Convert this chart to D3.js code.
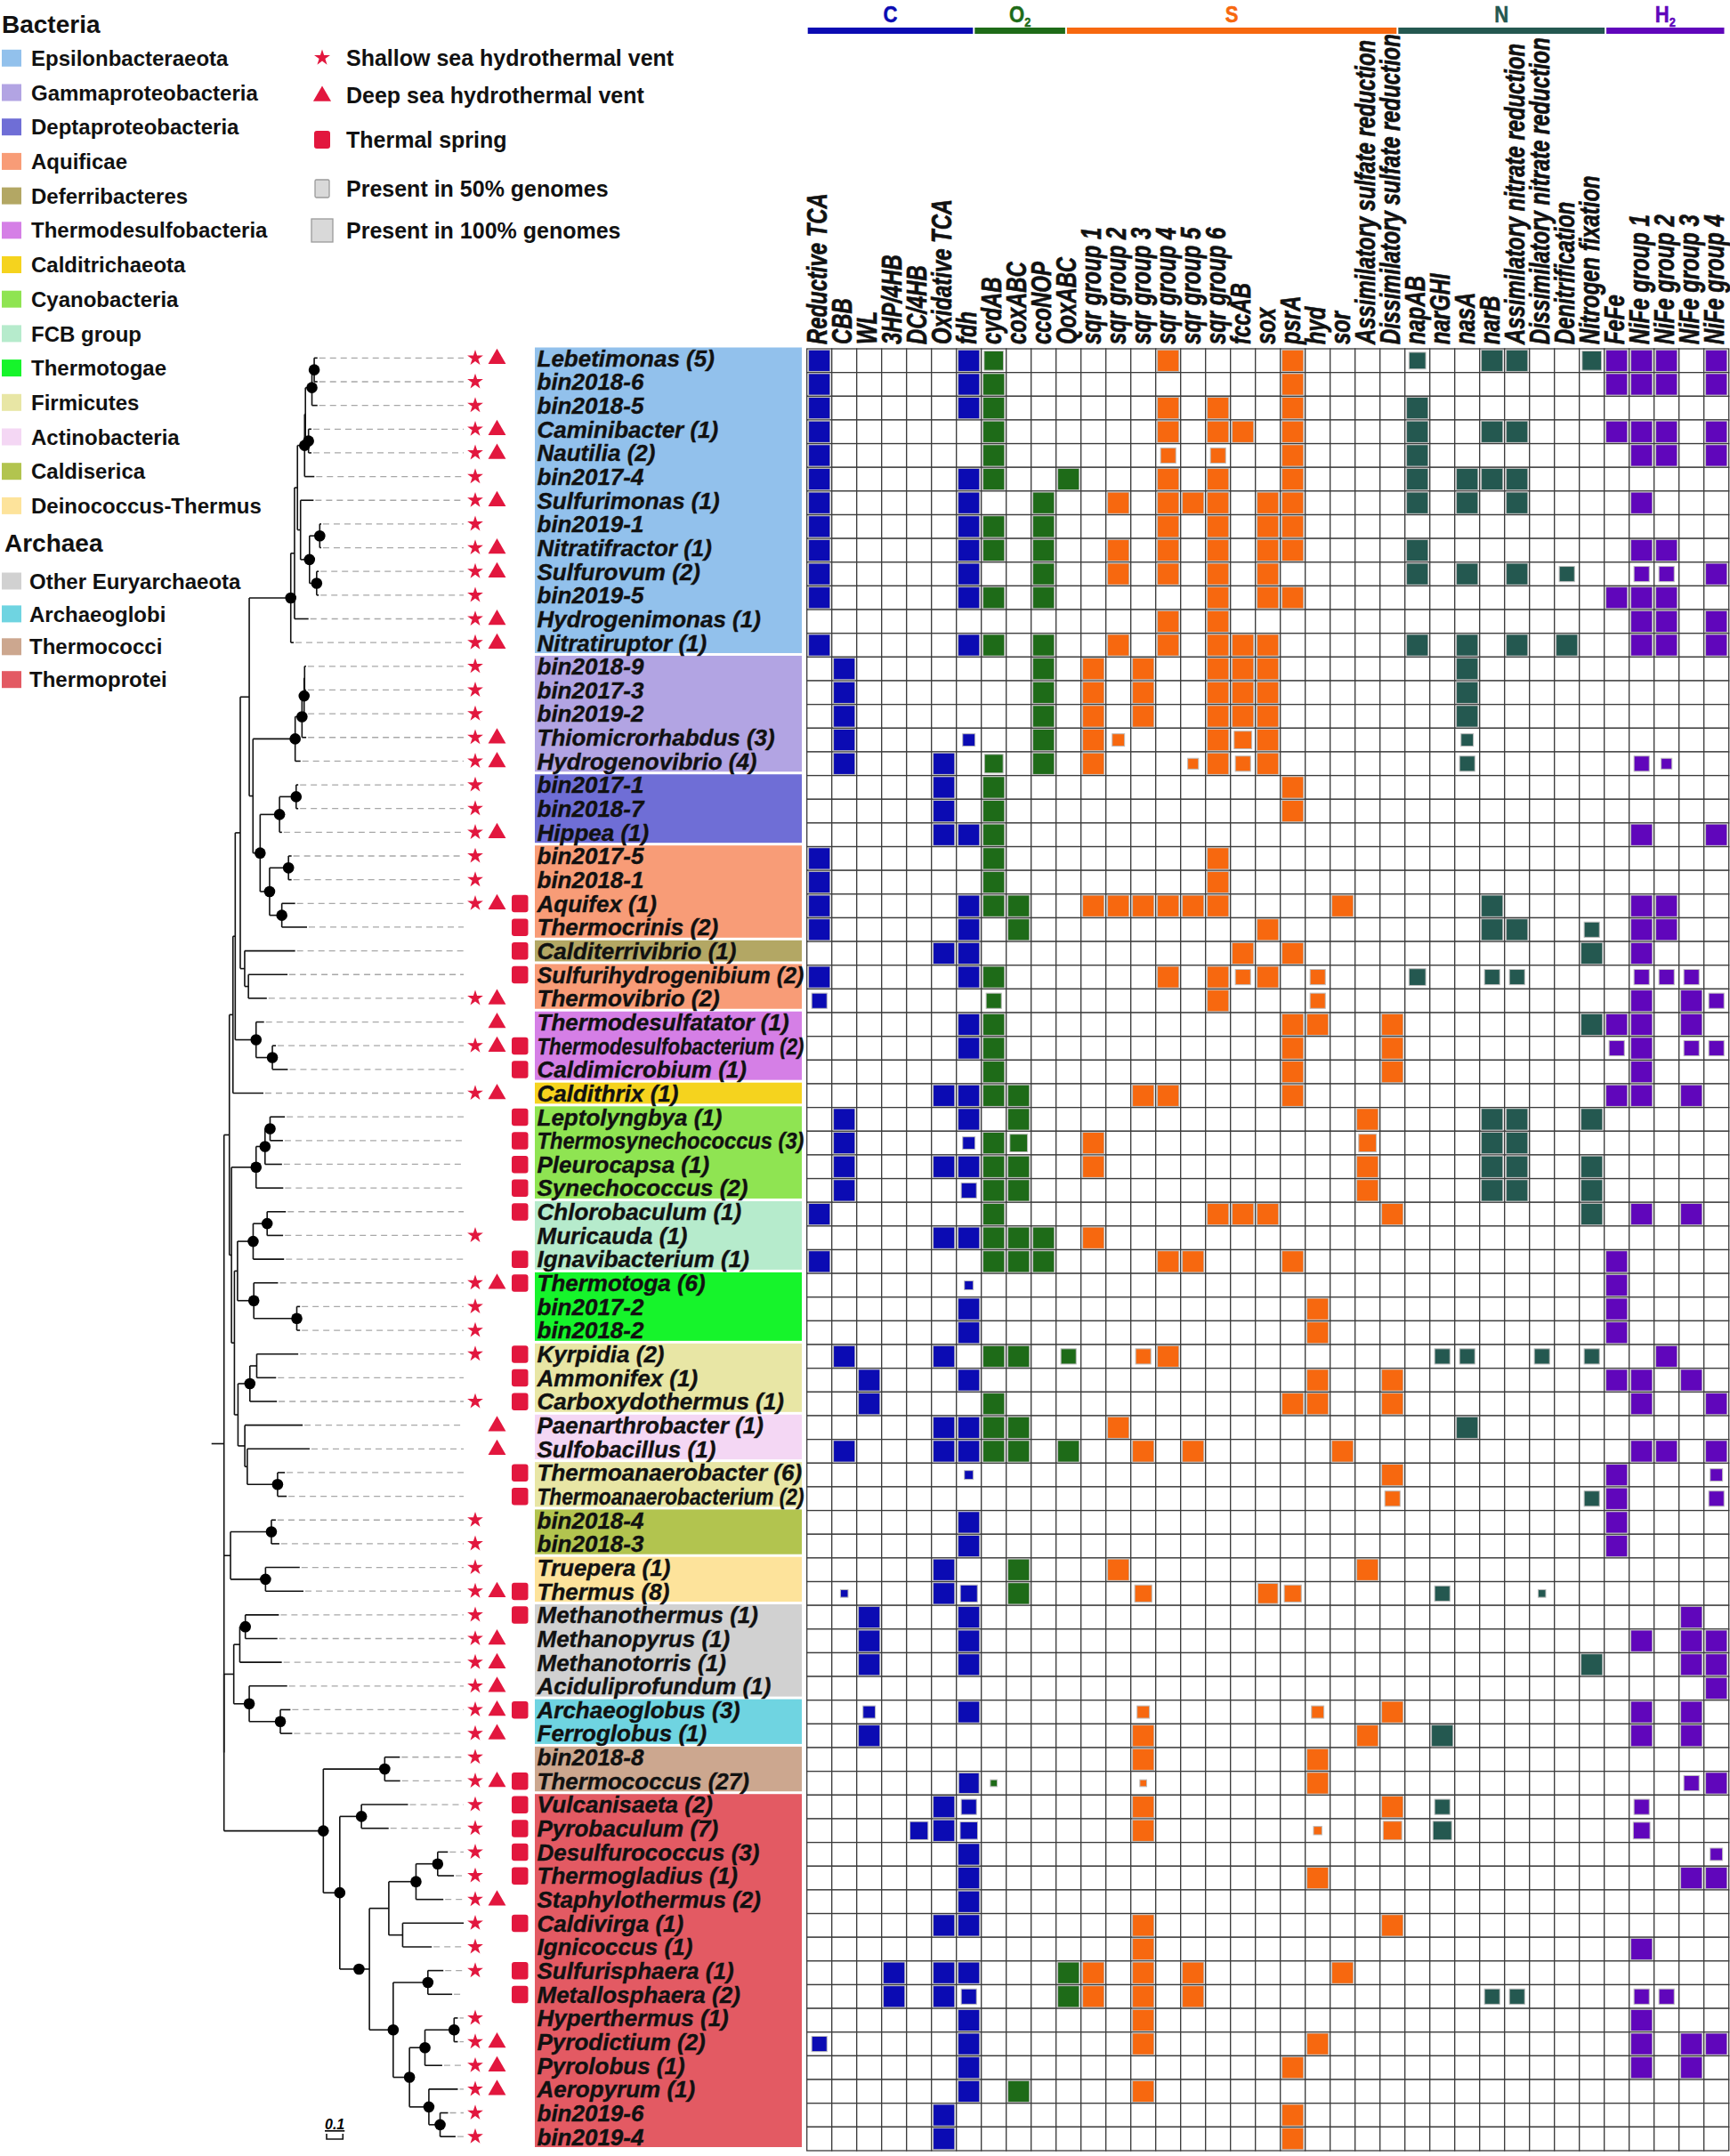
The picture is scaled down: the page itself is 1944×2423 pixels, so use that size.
<!DOCTYPE html>
<html><head><meta charset="utf-8">
<script src="https://cdn.jsdelivr.net/npm/d3@7"></script>
<style>
body{margin:0;background:#fff}
svg{display:block}
text{font-family:"Liberation Sans",Arial,Helvetica,sans-serif}
</style>
</head><body>
<svg id="chart" width="1944" height="2423"></svg>
<script>
// ---------------- DATA ----------------
const genes = ["Reductive TCA","CBB","WL","3HP/4HB","DC/4HB","Oxidative TCA","fdh",
  "cydAB","coxABC","ccoNOP","QoxABC",
  "sqr group 1","sqr group 2","sqr group 3","sqr group 4","sqr group 5","sqr group 6","fccAB","sox","psrA","hyd","sor","Assimilatory sulfate reduction","Dissimilatory sulfate reduction",
  "napAB","narGHI","nasA","narB","Assimilatory nitrate reduction","Dissimilatory nitrate reduction","Denitrification","Nitrogen fixation",
  "FeFe","NiFe group 1","NiFe group 2","NiFe group 3","NiFe group 4"];
const groupNames = ["C","O","S","N","H"];
const groupSubs  = ["","2","","","2"];
const groupSizes = [7,4,13,8,5];
// header bar edges, in column units, as drawn in the figure
const groupBarEdges = [0, 6.7, 10.4, 23.7, 32.05, 36.85];
const groupColors = ["#0b0bb3","#1e6b18","#f7680f","#245850","#6006bb"];

const phyla = ["Epsilonbacteraeota","Gammaproteobacteria","Deptaproteobacteria","Aquificae","Deferribacteres",
  "Thermodesulfobacteria","Calditrichaeota","Cyanobacteria","FCB group","Thermotogae","Firmicutes",
  "Actinobacteria","Caldiserica","Deinococcus-Thermus",
  "Other Euryarchaeota","Archaeoglobi","Thermococci","Thermoprotei"];
const phylaColors = ["#92c1ec","#b2a4e3","#6f6ed6","#f89c77","#b3a764","#d57fe6","#f5d31e","#8fe452",
  "#b6ebcc","#16f42b","#e8e6a5","#f4d7f4","#b2c44f","#fde39b","#d1d1d1","#6fd4e1","#cca78f","#e35a63"];
const bacteriaCount = 14;

const taxa = ["Lebetimonas (5)","bin2018-6","bin2018-5","Caminibacter (1)","Nautilia (2)","bin2017-4",
  "Sulfurimonas (1)","bin2019-1","Nitratifractor (1)","Sulfurovum (2)","bin2019-5","Hydrogenimonas (1)",
  "Nitratiruptor (1)","bin2018-9","bin2017-3","bin2019-2","Thiomicrorhabdus (3)","Hydrogenovibrio (4)",
  "bin2017-1","bin2018-7","Hippea (1)","bin2017-5","bin2018-1","Aquifex (1)","Thermocrinis (2)",
  "Calditerrivibrio (1)","Sulfurihydrogenibium (2)","Thermovibrio (2)","Thermodesulfatator (1)",
  "Thermodesulfobacterium (2)","Caldimicrobium (1)","Caldithrix (1)","Leptolyngbya (1)",
  "Thermosynechococcus (3)","Pleurocapsa (1)","Synechococcus (2)","Chlorobaculum (1)","Muricauda (1)",
  "Ignavibacterium (1)","Thermotoga (6)","bin2017-2","bin2018-2","Kyrpidia (2)","Ammonifex (1)",
  "Carboxydothermus (1)","Paenarthrobacter (1)","Sulfobacillus (1)","Thermoanaerobacter (6)",
  "Thermoanaerobacterium (2)","bin2018-4","bin2018-3","Truepera (1)","Thermus (8)","Methanothermus (1)",
  "Methanopyrus (1)","Methanotorris (1)","Aciduliprofundum (1)","Archaeoglobus (3)","Ferroglobus (1)",
  "bin2018-8","Thermococcus (27)","Vulcanisaeta (2)","Pyrobaculum (7)","Desulfurococcus (3)",
  "Thermogladius (1)","Staphylothermus (2)","Caldivirga (1)","Ignicoccus (1)","Sulfurisphaera (1)",
  "Metallosphaera (2)","Hyperthermus (1)","Pyrodictium (2)","Pyrolobus (1)","Aeropyrum (1)",
  "bin2019-6","bin2019-4"];

const taxonPhylum = [0,0,0,0,0,0,0,0,0,0,0,0,0, 1,1,1,1,1, 2,2,2, 3,3,3,3, 4, 3,3, 5,5,5, 6,
  7,7,7,7, 8,8,8, 9,9,9, 10,10,10, 11,11, 10,10, 12,12, 13,13,
  14,14,14,14, 15,15, 16,16, 17,17,17,17,17,17,17,17,17,17,17,17,17,17,17];

// S = shallow sea vent, D = deep sea vent, T = thermal spring
const habitats = ["SD","S","S","SD","SD","S","SD","S","SD","SD","S","SD","SD",
  "S","S","S","SD","SD","S","S","SD","S","S","SDT","T","T","T","SD",
  "D","SDT","T","SD","T","T","T","T","T","S","T","SDT","S","S",
  "ST","T","ST","D","D","T","T","S","S","S","SDT",
  "ST","SD","SD","SD","SDT","SD","S","SDT",
  "ST","ST","ST","ST","SD","ST","S","ST","T","S","SD","SD","SD","S","S"];

// gene index (full presence) or [gene index, fraction of genomes]
const presence = [
  [0,6,[7,.8],14,19,[24,.6],27,28,[31,.8],32,33,34,36],
  [0,6,7,19,32,33,34,36],
  [0,6,7,14,16,19,24],
  [0,7,14,16,17,19,24,27,28,32,33,34,36],
  [0,7,[14,.5],[16,.5],19,24,33,34,36],
  [0,6,7,10,14,16,19,24,26,27,28],
  [0,6,9,12,14,15,16,18,19,24,26,28,33],
  [0,6,7,9,14,16,18,19],
  [0,6,7,9,12,14,16,18,19,24,33,34],
  [0,6,9,12,14,16,18,24,26,28,[30,.5],[33,.5],[34,.5],36],
  [0,6,7,9,16,18,19,32,33,34],
  [14,16,33,34,36],
  [0,6,7,9,12,14,16,17,18,24,26,28,30,33,34,36],
  [1,9,11,13,16,17,18,26],
  [1,9,11,13,16,17,18,26],
  [1,9,11,13,16,17,18,26],
  [1,[6,.33],9,11,[12,.33],16,[17,.67],18,[26,.33]],
  [1,5,[7,.75],9,11,[15,.25],16,[17,.5],18,[26,.5],[33,.5],[34,.25]],
  [5,7,19],
  [5,7,19],
  [5,6,7,33,36],
  [0,7,16],
  [0,7,16],
  [0,6,7,8,11,12,13,14,15,16,21,27,33,34],
  [0,6,8,18,27,28,[31,.5],33,34],
  [5,6,17,19,31,33],
  [0,6,7,14,16,[17,.5],18,[20,.5],[24,.6],[27,.5],[28,.5],[33,.5],[34,.5],[35,.5]],
  [[0,.5],[7,.5],16,[20,.5],33,35,[36,.5]],
  [6,7,19,20,23,31,32,33,35],
  [6,7,19,23,[32,.5],33,[35,.5],[36,.5]],
  [7,19,23,33],
  [5,6,7,8,13,14,19,32,33,35],
  [1,6,8,22,27,28,31],
  [1,[6,.33],7,[8,.67],11,[22,.67],27,28],
  [1,5,6,7,8,11,22,27,28,31],
  [1,[6,.5],7,8,22,27,28,31],
  [0,7,16,17,18,23,31,33,35],
  [5,6,7,8,9,11],
  [0,7,8,9,14,15,19,32],
  [[6,.17],32],
  [6,20,32],
  [6,20,32],
  [1,5,7,8,[10,.5],[13,.5],14,[25,.5],[26,.5],[29,.5],[31,.5],34],
  [2,6,20,23,32,33,35],
  [2,7,19,20,23,33,36],
  [5,6,7,8,12,26],
  [1,5,6,7,8,10,13,15,21,33,34,36],
  [[6,.17],23,32,[36,.33]],
  [[23,.5],[31,.5],32,[36,.5]],
  [6,32],
  [6,32],
  [5,8,12,22],
  [[1,.125],5,[6,.625],8,[13,.625],[18,.875],[19,.625],[25,.5],[29,.125]],
  [2,6,35],
  [2,6,33,35,36],
  [2,6,31,35,36],
  [36],
  [[2,.33],6,[13,.33],[20,.33],23,33,35],
  [2,13,22,25,33,35],
  [13,20],
  [[6,.9],[7,.1],[13,.1],20,[35,.5],36],
  [5,[6,.5],13,23,[25,.5],[33,.5]],
  [[4,.7],5,[6,.65],13,[20,.15],[23,.75],[25,.75],[33,.6]],
  [6,[36,.33]],
  [6,20,35,36],
  [6],
  [5,6,13,23],
  [13,33],
  [3,5,6,10,11,13,15,21],
  [3,5,[6,.5],10,11,13,15,[27,.5],[28,.5],[33,.5],[34,.5]],
  [6,13,33],
  [[0,.5],6,13,20,33,35,36],
  [6,19,33,35],
  [6,8,13],
  [5,19],
  [5,19]
];

// phylogeny (leaf order = taxa order); "*" marks supported nodes
const newick = `(
((((((((((((Lebetimonas:0.020,bin2018-6:0.020)*:0.014,bin2018-5:0.034)*:0.040,
(Caminibacter:0.018,Nautilia:0.018)*:0.019):0.005,bin2017-4:0.060)*:0.044,
(Sulfurimonas:0.080,((bin2019-1:0.009,Nitratifractor:0.009)*:0.063,(Sulfurovum:0.013,bin2019-5:0.013)*:0.044)*:0.055):0.019
):0.018,Hydrogenimonas:0.086):0.023,Nitratiruptor:0.018)*:0.255,
(((((bin2018-9:0.009,bin2017-3:0.009):0.003,bin2019-2:0.013)*:0.013,Thiomicrorhabdus:0.026)*:0.042,Hydrogenovibrio:0.033)*:0.259,
(((bin2017-1:0.013,bin2018-7:0.013)*:0.102,Hippea:0.015)*:0.119,
((bin2017-5:0.019,bin2018-1:0.019)*:0.116,(Aquifex:0.082,Thermocrinis:0.155)*:0.075)*:0.058)*:0.044):0.023
):0.055,
(Calditerrivibrio:0.310,(Sulfurihydrogenibium:0.240,Thermovibrio:0.113):0.023):0.027
):0.031,
(Thermodesulfatator:0.049,(Thermodesulfobacterium:0.022,Caldimicrobium:0.095)*:0.100)*:0.128
):0.014,Caldithrix:0.187):0.022,
((((Leptolyngbya:0.091,Thermosynechococcus:0.079)*:0.031,Pleurocapsa:0.104)*:0.055,Synechococcus:0.167)*:0.151,
((((Chlorobaculum:0.115,Muricauda:0.098)*:0.086,Ignavibacterium:0.190)*:0.096,
(Thermotoga:0.149,(bin2017-2:0.020,bin2018-2:0.020)*:0.264)*:0.100):0.019,
(((Kyrpidia:0.255,Ammonifex:0.119):0.042,Carboxydothermus:0.166)*:0.073,
(Paenarthrobacter:0.355,(Sulfobacillus:0.383,(Thermoanaerobacter:0.045,Thermoanaerobacterium:0.056)*:0.186):0.015):0.042):0.022
):0.018):0.013
):0.033,
((bin2018-4:0.027,bin2018-3:0.049)*:0.251,(Truepera:0.210,Thermus:0.233)*:0.215):0.040,
((((Methanothermus:0.206,Methanopyrus:0.197)*:0.034,Methanotorris:0.258):0.037,
(Aciduliprofundum:0.233,(Archaeoglobus:0.062,Ferroglobus:0.073)*:0.191)*:0.095):0.060,
((bin2018-8:0.093,Thermococcus:0.095)*:0.377,
((Vulcanisaeta:0.286,Pyrobaculum:0.167)*:0.133,
(((((Desulfurococcus:0.063,Thermogladius:0.100)*:0.133,Staphylothermus:0.168)*:0.167,
(Caldivirga:0.375,Ignicoccus:0.179):0.085):0.119,
((Sulfurisphaera:0.095,Metallosphaera:0.149)*:0.213,
(((Hyperthermus:0.023,Pyrodictium:0.023)*:0.179,Pyrolobus:0.106)*:0.095,
(Aeropyrum:0.178,(bin2019-6:0.049,bin2019-4:0.095)*:0.069)*:0.119)*:0.100)*:0.146
):0.064)*:0.118)*:0.101)*:0.610
);`;

// ---------------- HELPERS ----------------
function parseNewick(str) {
  const s = str.replace(/\s+/g, "");
  let i = 0;
  function node() {
    const n = {};
    if (s[i] === "(") {
      n.children = [];
      i++;
      n.children.push(node());
      while (s[i] === ",") { i++; n.children.push(node()); }
      i++; // ')'
    }
    let name = "";
    while (i < s.length && !",():;".includes(s[i])) name += s[i++];
    n.name = name;
    n.length = 0;
    if (s[i] === ":") {
      i++;
      let num = "";
      while (i < s.length && !",();".includes(s[i])) num += s[i++];
      n.length = +num;
    }
    return n;
  }
  return node();
}

// ---------------- DRAW ----------------
const svg = d3.select("#chart");
const RED = "#e2173e";

const rowY  = d3.scaleBand().domain(d3.range(taxa.length)).range([392, 2417]);
const leftY = d3.scaleBand().domain(d3.range(taxa.length)).range([389, 2414.5]);
const colX  = d3.scaleBand().domain(genes).range([906.7, 1942.7]);
const colUnit = d3.scaleLinear().domain([0, genes.length]).range(colX.range());
const bw = colX.bandwidth(), bh = rowY.bandwidth();

const geneGroup = groupSizes.flatMap((n, g) => d3.range(n).map(() => g));

// grid cells
svg.append("g").selectAll("rect")
  .data(d3.cross(d3.range(taxa.length), d3.range(genes.length)))
  .join("rect")
  .attr("x", d => colX(genes[d[1]]))
  .attr("y", d => rowY(d[0]))
  .attr("width", bw).attr("height", bh)
  .attr("fill", "#fff").attr("stroke", "#3b3b3b").attr("stroke-width", 1.3);

// presence squares
const filled = presence.flatMap((row, i) => row.map(e => {
  const [j, f] = Array.isArray(e) ? e : [e, 1];
  return {i, j, f};
}));
const fullSide = Math.min(bw, bh) - 2.4;
const side = f => fullSide * Math.sqrt(f);
svg.append("g").selectAll("rect").data(filled).join("rect")
  .attr("x", d => colX(genes[d.j]) + bw / 2 - side(d.f) / 2)
  .attr("y", d => rowY(d.i) + bh / 2 - side(d.f) / 2)
  .attr("width", d => side(d.f)).attr("height", d => side(d.f))
  .attr("fill", d => groupColors[geneGroup[d.j]])
  .attr("stroke", "#bdbdbd").attr("stroke-width", 1);

// column labels
svg.append("g").selectAll("text").data(genes).join("text")
  .attr("transform", g => `translate(${colX(g) + bw / 2},387) rotate(-90) scale(0.77,1)`)
  .attr("dy", "0.26em")
  .attr("font-size", 31).attr("font-weight", "bold").attr("font-style", "italic")
  .attr("fill", "#111").attr("stroke", "#111").attr("stroke-width", 0.7)
  .text(g => g);

// group header bars + labels
groupNames.forEach((name, g) => {
  const x0 = colUnit(groupBarEdges[g]);
  const x1 = colUnit(groupBarEdges[g + 1]);
  svg.append("rect").attr("x", x0 + 1).attr("y", 31).attr("width", x1 - x0 - 2).attr("height", 7)
    .attr("fill", groupColors[g]);
  const t = svg.append("text")
    .attr("transform", `translate(${(x0 + x1) / 2},25) scale(0.85,1)`)
    .attr("text-anchor", "middle").attr("font-size", 26).attr("font-weight", "bold")
    .attr("fill", groupColors[g]).attr("stroke", groupColors[g]).attr("stroke-width", 0.5);
  t.append("tspan").text(name);
  if (groupSubs[g]) t.append("tspan").attr("font-size", 15).attr("dy", 5).text(groupSubs[g]);
});

// label boxes
const runs = [];
taxonPhylum.forEach((p, i) => {
  const last = runs[runs.length - 1];
  if (last && last.p === p) last.end = i; else runs.push({p, start: i, end: i});
});
svg.append("g").selectAll("rect").data(runs).join("rect")
  .attr("x", 601).attr("width", 300)
  .attr("y", d => leftY(d.start) + 1.5)
  .attr("height", d => leftY(d.end) + leftY.bandwidth() - leftY(d.start) - 3)
  .attr("fill", d => phylaColors[d.p]);

// taxon labels
const lbl = svg.append("g").selectAll("text").data(taxa).join("text")
  .attr("x", 603.5)
  .attr("y", (d, i) => leftY(i) + leftY.bandwidth() / 2)
  .attr("dy", "0.36em")
  .attr("font-size", 26).attr("font-weight", "bold").attr("font-style", "italic")
  .attr("fill", "#111").attr("stroke", "#111").attr("stroke-width", 0.35)
  .text(d => d);
lbl.each(function () {
  if (this.getComputedTextLength() > 300) {
    d3.select(this).attr("textLength", 300).attr("lengthAdjust", "spacingAndGlyphs");
  }
});

// habitat symbols
const star = d3.symbol().type(d3.symbolStar).size(98)();
const tri = d3.symbol().type(d3.symbolTriangle).size(172)();
const hab = svg.append("g");
habitats.forEach((h, i) => {
  const cy = leftY(i) + leftY.bandwidth() / 2;
  if (h.includes("S")) hab.append("path").attr("d", star).attr("transform", `translate(534,${cy})`).attr("fill", RED);
  if (h.includes("D")) hab.append("path").attr("d", tri).attr("transform", `translate(558.5,${cy + 1})`).attr("fill", RED);
  if (h.includes("T")) hab.append("rect").attr("x", 575).attr("y", cy - 9.5).attr("width", 18.5).attr("height", 19.5)
    .attr("rx", 3).attr("fill", RED);
});

// tree
const root = d3.hierarchy(parseNewick(newick));
const xTree = d3.scaleLinear().domain([0, 1]).range([251.7, 251.7 + 183]);
root.each(d => { d.dist = d.parent ? d.parent.dist + d.data.length : 0; });
root.leaves().forEach((l, i) => { l.y = leftY(i) + leftY.bandwidth() / 2; });
root.eachAfter(d => {
  if (d.children) d.y = (d.children[0].y + d.children[d.children.length - 1].y) / 2;
  d.x = xTree(d.dist);
});
const tree = svg.append("g");
const dashEnd = 521;
tree.selectAll("line.dash").data(root.leaves().filter(l => l.x < dashEnd - 2)).join("line")
  .attr("x1", d => d.x + 2).attr("x2", dashEnd).attr("y1", d => d.y).attr("y2", d => d.y)
  .attr("stroke", "#a8a8a8").attr("stroke-width", 1.3).attr("stroke-dasharray", "7,5");
tree.selectAll("path.h").data(root.descendants().filter(d => d.parent)).join("path")
  .attr("d", d => `M${d.parent.x},${d.y}H${d.x}`)
  .attr("stroke", "#111").attr("stroke-width", 1.6).attr("fill", "none");
tree.selectAll("path.v").data(root.descendants().filter(d => d.children)).join("path")
  .attr("d", d => `M${d.x},${d.children[0].y}V${d.children[d.children.length - 1].y}`)
  .attr("stroke", "#111").attr("stroke-width", 1.6).attr("fill", "none");
tree.append("path").attr("d", `M${root.x - 14},${root.y}H${root.x}`)
  .attr("stroke", "#111").attr("stroke-width", 1.6);
tree.selectAll("circle").data(root.descendants().filter(d => d.data.name === "*")).join("circle")
  .attr("cx", d => d.x).attr("cy", d => d.y).attr("r", 6.3).attr("fill", "#000");

// scale bar
const sb0 = 367, sb1 = sb0 + xTree(0.1) - xTree(0);
tree.append("path").attr("d", `M${sb0},2398V2404H${sb1}V2398`)
  .attr("stroke", "#111").attr("stroke-width", 1.6).attr("fill", "none");
tree.append("text").attr("x", (sb0 + sb1) / 2).attr("y", 2393).attr("text-anchor", "middle")
  .attr("font-size", 16).attr("font-weight", "bold").attr("font-style", "italic")
  .attr("text-decoration", "underline").text("0.1");

// legend: taxonomy
const leg = svg.append("g");
leg.append("text").attr("x", 2).attr("y", 26.5).attr("dy", "0.36em").attr("font-size", 28)
  .attr("font-weight", "bold").attr("fill", "#111").text("Bacteria");
leg.append("text").attr("x", 5).attr("y", 609.6).attr("dy", "0.36em").attr("font-size", 28)
  .attr("font-weight", "bold").attr("fill", "#111").text("Archaea");
phyla.forEach((p, k) => {
  const cy = k < bacteriaCount ? 65.3 + 38.7 * k : 653 + 36.9 * (k - bacteriaCount);
  leg.append("rect").attr("x", 2).attr("y", cy - 9.5).attr("width", 22).attr("height", 19)
    .attr("fill", phylaColors[k]);
  leg.append("text").attr("x", k < bacteriaCount ? 35 : 33).attr("y", cy).attr("dy", "0.36em")
    .attr("font-size", 24).attr("font-weight", "bold").attr("fill", "#111").text(p);
});

// legend: symbols
const symItems = [
  {t: "Shallow sea hydrothermal vent", y: 65},
  {t: "Deep sea hydrothermal vent", y: 107},
  {t: "Thermal spring", y: 157},
  {t: "Present in 50% genomes", y: 212},
  {t: "Present in 100% genomes", y: 259}
];
leg.append("path").attr("d", d3.symbol().type(d3.symbolStar).size(100)()).attr("transform", "translate(362,65)").attr("fill", RED);
leg.append("path").attr("d", d3.symbol().type(d3.symbolTriangle).size(175)()).attr("transform", "translate(362,108)").attr("fill", RED);
leg.append("rect").attr("x", 353).attr("y", 147).attr("width", 18).attr("height", 20).attr("rx", 3).attr("fill", RED);
leg.append("rect").attr("x", 354).attr("y", 202).attr("width", 16).attr("height", 20).attr("rx", 1.5)
  .attr("fill", "#d9d9d9").attr("stroke", "#9a9a9a").attr("stroke-width", 1.3);
leg.append("rect").attr("x", 350).attr("y", 246).attr("width", 24).attr("height", 26)
  .attr("fill", "#d9d9d9").attr("stroke", "#9a9a9a").attr("stroke-width", 1.3);
symItems.forEach(s => {
  leg.append("text").attr("x", 389).attr("y", s.y).attr("dy", "0.36em").attr("font-size", 25)
    .attr("font-weight", "bold").attr("fill", "#111").text(s.t);
});
</script>
</body></html>
